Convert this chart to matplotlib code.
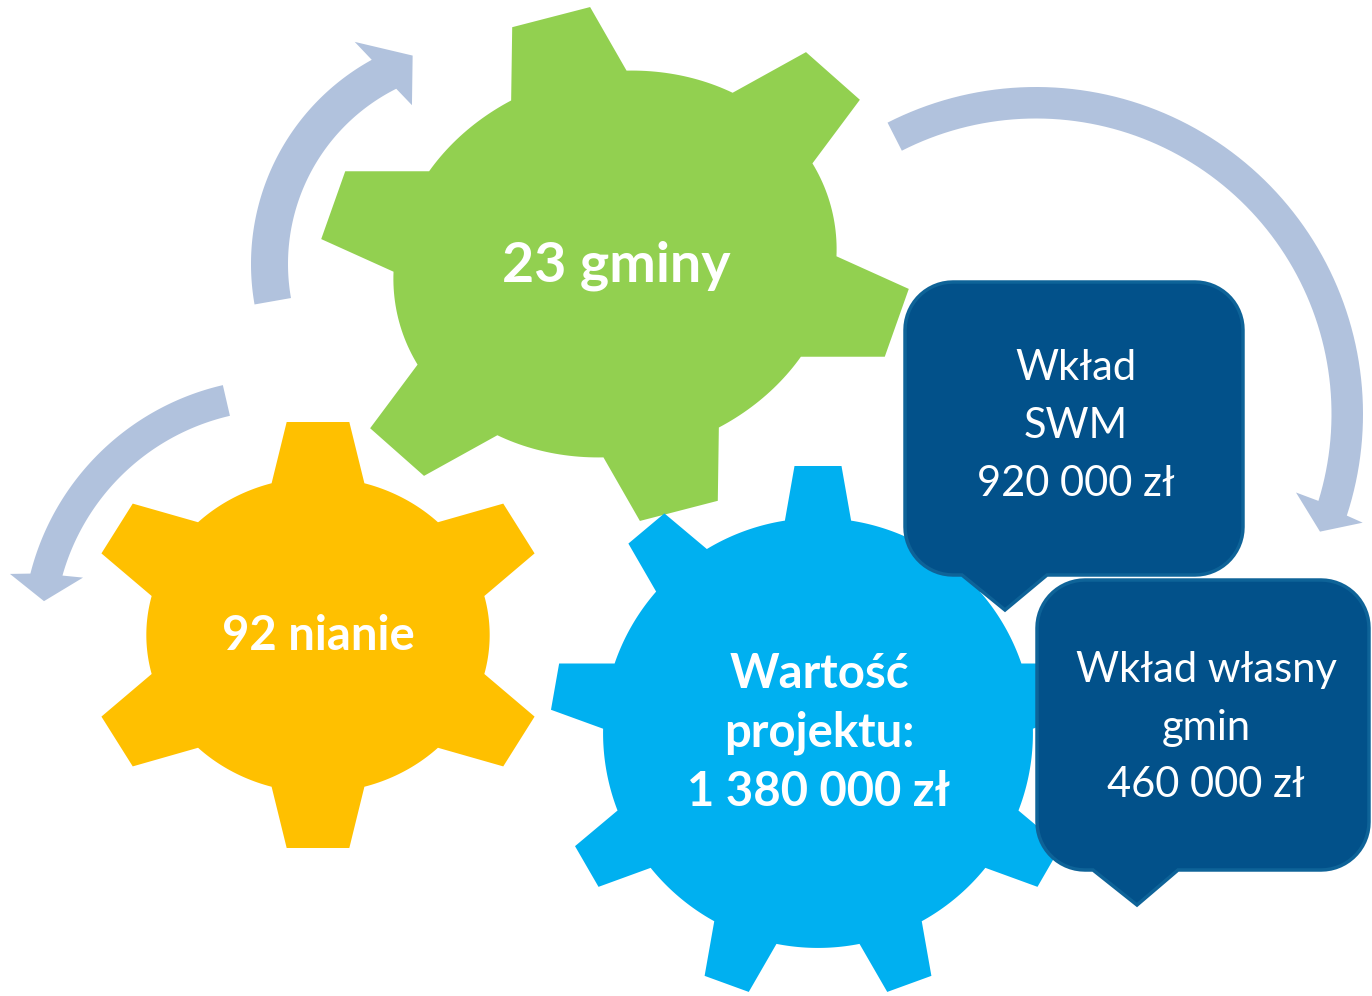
import numpy as np
import matplotlib
matplotlib.use("Agg")
import matplotlib.pyplot as plt
from matplotlib.patches import Polygon

# ---------------- data ----------------
gminy = 23
nianie = 92
project_value = 1380000
swm_share = 920000
own_share = 460000


def pln(n):
    return f"{n:,}".replace(",", " ") + " zł"


gear_lines = [
    [f"{gminy} gminy"],
    [f"{nianie} nianie"],
    ["Wartość", "projektu:", pln(project_value)],
]
callout_lines = [
    ["Wkład", "SWM", pln(swm_share)],
    ["Wkład własny", "gmin", pln(own_share)],
]

# ---------------- style ----------------
GREEN = "#92D050"
YELLOW = "#FFC000"
BLUE = "#00B0F0"
BOX = "#02518A"
BOX_EDGE = "#0E6398"
ARROW = "#B1C2DD"
FONT = ["Lato", "DejaVu Sans"]

W, H = 1372, 996
fig = plt.figure(figsize=(W / 100, H / 100), dpi=100)
ax = fig.add_axes([0, 0, 1, 1])
ax.set_xlim(0, W)
ax.set_ylim(H, 0)
ax.axis("off")


def gear_pts(cx, cy, a, b, rot, n, phase, rb, wt, wb, arc_steps=24):
    pts = []
    db = np.arcsin(wb / rb)
    step = 2 * np.pi / n
    for k in range(n):
        t = np.radians(phase) + k * step
        u = np.array([np.cos(t), np.sin(t)])
        v = np.array([-np.sin(t), np.cos(t)])
        pts.append(rb * np.array([np.cos(t - db), np.sin(t - db)]))
        pts.append(u - v * wt)
        pts.append(u + v * wt)
        pts.append(rb * np.array([np.cos(t + db), np.sin(t + db)]))
        for s in np.linspace(t + db, t + step - db, arc_steps)[1:-1]:
            pts.append(rb * np.array([np.cos(s), np.sin(s)]))
    P = np.array(pts) * np.array([a, b])
    r = np.radians(rot)
    R = np.array([[np.cos(r), -np.sin(r)], [np.sin(r), np.cos(r)]])
    P = P @ R.T
    return np.column_stack([cx + P[:, 0], cy - P[:, 1]])


def polar(r, t):
    t = np.radians(t)
    return [r * np.cos(t), r * np.sin(t)]


def arc_arrow_pts(cx, cy, r_in, r_out, t0, t1o, t1i, bo, bi, tip, steps=90):
    to = np.radians(np.linspace(t0, t1o, steps))
    ti = np.radians(np.linspace(t1i, t0, steps))
    outer = np.column_stack([r_out * np.cos(to), r_out * np.sin(to)])
    inner = np.column_stack([r_in * np.cos(ti), r_in * np.sin(ti)])
    head = np.array([polar(*bo), polar(*tip), polar(*bi)])
    P = np.vstack([outer, head, inner])
    return np.column_stack([cx + P[:, 0], cy - P[:, 1]])


def callout_pts(x0, y0, x1, y1, r, tl, tr, tip, steps=16):
    pts = []

    def corner(ccx, ccy, a0, a1):
        for phi in np.radians(np.linspace(a0, a1, steps)):
            pts.append((ccx + r * np.cos(phi), ccy + r * np.sin(phi)))

    corner(x0 + r, y0 + r, 180, 270)
    corner(x1 - r, y0 + r, 270, 360)
    corner(x1 - r, y1 - r, 0, 90)
    pts.append((tr, y1))
    pts.append(tip)
    pts.append((tl, y1))
    corner(x0 + r, y1 - r, 90, 180)
    return np.array(pts)


# ---------------- arrows ----------------
arrows = [
    dict(cx=484, cy=264, r_in=196, r_out=233, t0=190, t1o=118.8, t1i=116.6,
         bo=(257, 120.2), bi=(174.4, 114.4), tip=(220.3, 108.9)),
    dict(cx=281, cy=637, r_in=227, r_out=258.5, t0=103, t1o=165.8, t1i=164.3,
         bo=(278.3, 166.9), bi=(206.7, 163.3), tip=(239.7, 171.4)),
    dict(cx=1036, cy=414, r_in=295.5, r_out=327, t0=117, t1o=-18.1, t1i=-17.1,
         bo=(344.3, -18.4), bi=(271.6, -16.8), tip=(307.4, -22.5)),
]
for a in arrows:
    ax.add_patch(Polygon(arc_arrow_pts(**a), closed=True, facecolor=ARROW, edgecolor="none", zorder=1))

# ---------------- gears ----------------
gears = [
    dict(cx=318, cy=635, a=232, b=213, rot=0, n=6, phase=90, rb=0.74, wt=0.135, wb=0.2, color=YELLOW),
    dict(cx=615, cy=264, a=298, b=255, rot=14.5, n=6, phase=90, rb=0.75, wt=0.135, wb=0.2, color=GREEN),
    dict(cx=818, cy=733, a=267, b=267, rot=0, n=9, phase=90, rb=0.805, wt=0.088, wb=0.124, color=BLUE),
]
for g in gears:
    col = g.pop("color")
    ax.add_patch(Polygon(gear_pts(**g), closed=True, facecolor=col, edgecolor="none", zorder=2))

# gear labels: (center x, baselines, font size) for green, yellow, blue gears
gear_text_pos = [
    (616, [281], 40),
    (318, [650], 34),
    (819, [688, 746, 806], 34),
]
for lines, (x, baselines, fs) in zip(gear_lines, gear_text_pos):
    for line, yb in zip(lines, baselines):
        ax.text(x, yb, line, ha="center", va="baseline", color="white",
                fontsize=fs, fontweight="bold", family=FONT, zorder=5)

# ---------------- callouts ----------------
callouts = [
    dict(x0=905, y0=282, x1=1243, y1=575, r=48, tl=962, tr=1047, tip=(1005, 610)),
    dict(x0=1037, y0=580, x1=1369, y1=870, r=48, tl=1093, tr=1178, tip=(1137, 905)),
]
callout_text_pos = [
    (1076, [380, 438, 496]),
    (1206, [682, 740, 797]),
]
for c, lines, (x, baselines) in zip(callouts, callout_lines, callout_text_pos):
    ax.add_patch(Polygon(callout_pts(**c), closed=True, facecolor=BOX,
                         edgecolor=BOX_EDGE, linewidth=2.5, zorder=3))
    for line, yb in zip(lines, baselines):
        ax.text(x, yb, line, ha="center", va="baseline", color="white",
                fontsize=30, family=FONT, zorder=5)

fig.savefig("out.png", dpi=100, facecolor="white")
